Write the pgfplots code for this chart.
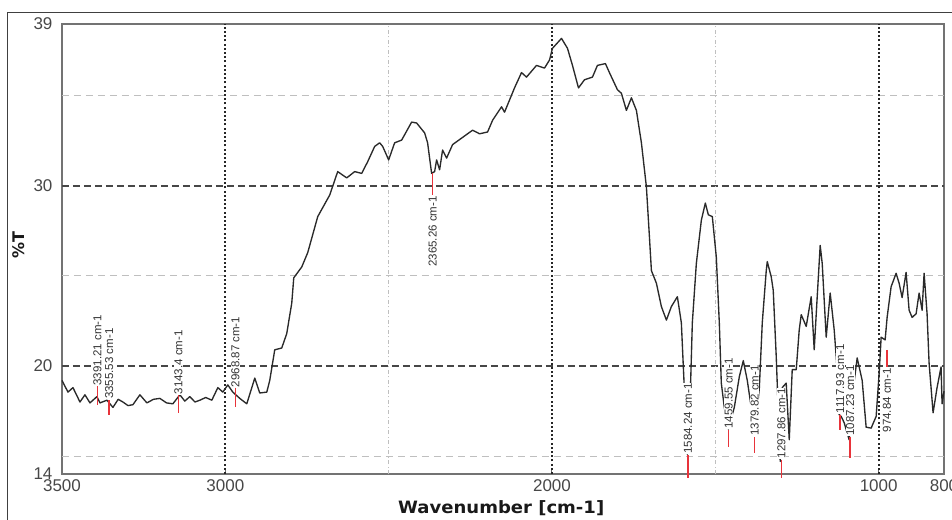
\documentclass[border=0pt]{standalone}
\usepackage{fontspec}
\setmainfont{Liberation Sans}
\newfontfamily\dejavu{DejaVu Sans}
\usepackage{pgfplots}
\pgfplotsset{compat=1.18}
\definecolor{curve}{HTML}{2A2A2A}
\definecolor{peakred}{HTML}{E8333A}
\pgfplotstableread{
wn T
3500.0 19.20
3481.7 18.55
3466.4 18.80
3445.0 18.00
3429.7 18.40
3414.4 17.95
3393.0 18.30
3383.8 17.95
3362.4 18.10
3344.0 17.70
3328.0 18.15
3313.5 18.00
3298.0 17.80
3282.9 17.85
3261.5 18.40
3240.1 17.95
3220.0 18.15
3200.3 18.20
3180.0 17.95
3160.6 17.90
3139.1 18.40
3124.0 18.05
3108.6 18.30
3093.0 18.00
3078.0 18.10
3060.0 18.25
3041.3 18.10
3022.9 18.80
3007.6 18.55
2992.4 18.95
2977.1 18.55
2955.7 18.20
2934.3 17.90
2909.8 19.33
2894.5 18.50
2873.1 18.55
2864.0 19.20
2848.7 20.90
2827.3 21.00
2812.0 21.80
2796.6 23.50
2790.5 24.90
2766.1 25.50
2747.7 26.30
2717.1 28.30
2680.4 29.50
2656.0 30.80
2628.4 30.45
2604.0 30.80
2582.6 30.70
2564.2 31.35
2542.8 32.20
2527.5 32.40
2518.3 32.20
2500.0 31.45
2481.7 32.40
2460.2 32.55
2429.7 33.55
2414.4 33.50
2389.9 32.95
2380.8 32.40
2368.5 30.70
2359.3 30.80
2353.2 31.45
2344.0 30.90
2334.9 32.00
2322.6 31.55
2304.3 32.30
2273.7 32.70
2243.1 33.10
2221.7 32.90
2197.2 33.00
2181.9 33.65
2154.4 34.40
2145.3 34.10
2114.7 35.45
2093.3 36.30
2078.0 36.05
2047.4 36.70
2022.9 36.55
2007.6 37.00
1998.5 37.65
1970.9 38.20
1952.6 37.65
1937.3 36.70
1918.9 35.45
1900.6 35.90
1876.1 36.05
1860.9 36.70
1836.4 36.80
1824.2 36.30
1799.7 35.35
1787.5 35.15
1772.2 34.20
1756.9 34.90
1741.6 34.20
1726.3 32.40
1711.0 29.95
1701.8 27.20
1695.7 25.30
1680.4 24.60
1665.1 23.30
1649.8 22.55
1634.6 23.30
1616.2 23.85
1604.0 22.40
1594.8 18.70
1585.7 15.10
1576.5 18.50
1570.4 22.40
1558.1 25.70
1542.8 28.10
1530.6 29.05
1521.4 28.40
1509.2 28.30
1497.0 26.05
1487.8 22.40
1481.7 19.05
1472.5 17.70
1460.3 16.50
1441.9 17.70
1426.6 19.40
1414.4 20.30
1402.2 19.20
1390.0 17.70
1380.8 16.20
1365.5 18.70
1356.3 22.40
1344.1 25.30
1341.0 25.80
1328.8 24.95
1322.7 24.20
1313.5 20.50
1307.4 17.50
1301.3 14.70
1295.2 18.80
1283.0 19.05
1273.7 15.90
1264.6 19.80
1252.3 19.80
1243.2 22.00
1237.0 22.85
1221.8 22.20
1206.5 23.85
1197.3 20.90
1188.1 23.85
1179.0 26.70
1172.8 25.70
1160.6 21.60
1148.4 24.05
1136.1 22.00
1127.0 19.80
1120.9 17.30
1114.7 17.20
1105.6 16.85
1090.3 15.90
1078.0 18.70
1065.8 20.45
1050.5 19.20
1038.3 16.60
1023.0 16.55
1007.7 17.20
998.5 19.60
992.4 21.60
980.2 21.45
974.1 22.70
961.9 24.40
946.6 25.15
937.4 24.60
928.2 23.80
916.0 25.20
906.8 23.10
897.6 22.70
885.4 22.90
876.2 24.05
867.0 23.10
860.9 25.15
851.8 22.90
845.6 20.15
833.4 17.40
821.2 18.80
809.0 19.95
805.9 17.90
800.0 18.60
}\spectrum
\begin{document}
\begin{tikzpicture}
\useasboundingbox (-62pt,-45pt) rectangle (890pt,474pt);
\draw[black!75, line width=1pt] (-54pt,-50pt) -- (-54pt,461pt) -- (895pt,461pt);
\begin{axis}[
  at={(0pt,0pt)}, anchor=south west,
  scale only axis, width=882pt, height=450pt,
  x dir=reverse, xmin=800, xmax=3500, ymin=14, ymax=39,
  clip=false,
  axis line style={black!55, line width=1.6pt},
  xtick={3500,3000,2000,1000,800},
  ytick={14,20,30,39},
  minor xtick={2500,1500}, minor ytick={15,25,35},
  tick align=inside,
  major tick length=4pt, minor tick length=3pt,
  every tick/.style={black!60, line width=1pt},
  xtick pos=bottom, ytick pos=left,
  scaled x ticks=false,
  /pgf/number format/assume math mode=true,
  /pgf/number format/1000 sep={},
  tick label style={font=\fontsize{17}{17}\selectfont, text=black!72},
  yticklabel style={xshift=-6pt},
  xticklabel style={yshift=-2pt},
  xlabel={\dejavu\bfseries\scalebox{1.06}[1]{Wavenumber [cm-1]}},
  xlabel style={at={(axis description cs:0.498,-0.076)}, anchor=center, font=\fontsize{17}{17}\selectfont, text=black!90},
  ylabel={\dejavu\bfseries \%T},
  ylabel style={at={(axis description cs:-0.0488,0.508)}, anchor=center, font=\fontsize{16}{16}\selectfont, text=black!90},
]
% grid lines
\foreach \yy in {15,25,35}{
  \edef\temp{\noexpand\draw[black!25, line width=1pt, dash pattern=on 7pt off 5pt] (axis cs:3500,\yy) -- (axis cs:800,\yy);}\temp }
\foreach \yy in {20,30}{
  \edef\temp{\noexpand\draw[black!72, line width=1.3pt, dash pattern=on 7pt off 4pt] (axis cs:3500,\yy) -- (axis cs:800,\yy);}\temp }
\foreach \xx in {2500,1500}{
  \edef\temp{\noexpand\draw[black!25, line width=1pt, dash pattern=on 4pt off 2.5pt on 1pt off 2.5pt] (axis cs:\xx,14) -- (axis cs:\xx,39);}\temp }
\foreach \xx in {3000,2000,1000}{
  \edef\temp{\noexpand\draw[black!85, line width=2pt, dash pattern=on 2pt off 2.2pt] (axis cs:\xx,14) -- (axis cs:\xx,39);}\temp }
% spectrum
\addplot[curve, line width=1.35pt, line join=round] table[x=wn, y=T] {\spectrum};
% peak labels
\begin{scope}[every node/.style={rotate=90, font=\fontsize{11.5}{11.5}\selectfont, text=black!80, inner sep=0.3pt, fill=white}]
\node[anchor=west] at (axis cs:3391.21,18.89) {3391.21 cm-1};
\node[anchor=west] at (axis cs:3355.53,18.15) {3355.53 cm-1};
\node[anchor=west] at (axis cs:3143.4,18.40) {3143.4 cm-1};
\node[anchor=west] at (axis cs:2968.87,18.80) {2968.87 cm-1};
\node[anchor=east] at (axis cs:2365.26,29.45) {2365.26 cm-1};
\node[anchor=west] at (axis cs:1584.24,15.10) {1584.24 cm-1};
\node[anchor=west] at (axis cs:1459.55,16.50) {1459.55 cm-1};
\node[anchor=west] at (axis cs:1379.82,16.10) {1379.82 cm-1};
\node[anchor=west] at (axis cs:1297.86,14.85) {1297.86 cm-1};
\node[anchor=west] at (axis cs:1117.93,17.35) {1117.93 cm-1};
\node[anchor=west] at (axis cs:1087.23,16.10) {1087.23 cm-1};
\node[anchor=east] at (axis cs:974.84,19.90) {974.84 cm-1};
\end{scope}
% red peak markers
\addplot[peakred, line width=1.6pt] coordinates {(3391.21,18.89) (3391.21,17.83)};
\addplot[peakred, line width=1.6pt] coordinates {(3355.53,18.10) (3355.53,17.30)};
\addplot[peakred, line width=1.6pt] coordinates {(3143.4,18.40) (3143.4,17.40)};
\addplot[peakred, line width=1.6pt] coordinates {(2968.87,18.80) (2968.87,17.70)};
\addplot[peakred, line width=1.6pt] coordinates {(2365.26,30.70) (2365.26,29.50)};
\addplot[peakred, line width=1.6pt] coordinates {(1584.24,15.05) (1584.24,13.80)};
\addplot[peakred, line width=1.6pt] coordinates {(1459.55,16.45) (1459.55,15.50)};
\addplot[peakred, line width=1.6pt] coordinates {(1379.82,16.05) (1379.82,15.15)};
\addplot[peakred, line width=1.6pt] coordinates {(1297.86,14.80) (1297.86,13.80)};
\addplot[peakred, line width=1.6pt] coordinates {(1117.93,17.30) (1117.93,16.45)};
\addplot[peakred, line width=1.6pt] coordinates {(1087.23,16.05) (1087.23,14.90)};
\addplot[peakred, line width=1.6pt] coordinates {(974.84,20.90) (974.84,19.95)};
\end{axis}
\end{tikzpicture}
\end{document}
